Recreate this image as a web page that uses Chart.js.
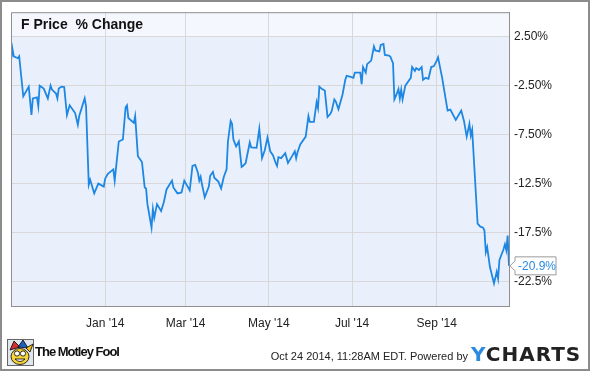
<!DOCTYPE html>
<html>
<head>
<meta charset="utf-8">
<script src="https://cdn.jsdelivr.net/npm/chart.js@4/dist/chart.umd.min.js"></script>
<style>
html, body { margin:0; padding:0; background:#fff; }
#wrap { position:relative; width:590px; height:371px; overflow:hidden; font-family:"Liberation Sans", Arial, sans-serif; }
#chartBox { position:absolute; left:0; top:0; width:590px; height:371px; }
#frame { position:absolute; left:0; top:0; width:590px; height:371px; box-sizing:border-box; border:2px solid #8c8c8c; pointer-events:none; }
.foot { position:absolute; white-space:nowrap; }
#fool { left:35px; top:344px; font-size:13px; font-weight:bold; letter-spacing:-1px; color:#111; line-height:16px; }
#stamp { right:122px; top:349px; font-size:11px; color:#222; line-height:14px; }
#ycharts { left:471px; top:343px; font-family:"DejaVu Sans", sans-serif; font-size:20px; font-weight:bold; letter-spacing:1px; color:#222; line-height:22px; }
#ycharts span { color:#2a8be0; }
#logo { left:7px; top:339px; }
</style>
</head>
<body>
<div id="wrap">
  <div id="chartBox"><canvas id="c"></canvas></div>
  <div class="foot" id="logo">
    <svg width="27" height="27" viewBox="0 0 27 27">
      <rect x="0.5" y="0.5" width="26" height="26" fill="#dfe6ee" stroke="#666"/>
      <path d="M3 11 L7 2 L13 8 Z" fill="#d32f2f" stroke="#000" stroke-width="0.8"/>
      <path d="M11 8 L16 1 L21 9 Z" fill="#1e5fc0" stroke="#000" stroke-width="0.8"/>
      <path d="M19 9 L26 5 L23 13 Z" fill="#f2c314" stroke="#000" stroke-width="0.8"/>
      <ellipse cx="13" cy="17.5" rx="9" ry="8" fill="#f5d33a" stroke="#000" stroke-width="0.8"/>
      <circle cx="10" cy="14.5" r="2.6" fill="#fff" stroke="#000" stroke-width="0.8"/>
      <circle cx="16" cy="14.5" r="2.6" fill="#fff" stroke="#000" stroke-width="0.8"/>
      <path d="M8 20 Q13 25 18 20 Z" fill="#fff" stroke="#000" stroke-width="0.8"/>
    </svg>
  </div>
  <div class="foot" id="fool">The Motley Fool</div>
  <div class="foot" id="stamp">Oct 24 2014, 11:28AM EDT. Powered by</div>
  <div class="foot" id="ycharts"><span>Y</span>CHARTS</div>
  <div id="frame"></div>
</div>
<script>
// F price % change
let startDate = "2013-10-24"
let endDate = "2014-10-24"
let dates = [
"2013-10-24","2013-10-25","2013-10-26","2013-10-29","2013-10-30","2013-11-02","2013-11-06","2013-11-08","2013-11-09","2013-11-12",
"2013-11-13","2013-11-14","2013-11-17","2013-11-20","2013-11-22","2013-11-23","2013-11-26","2013-11-27","2013-11-28","2013-11-30",
"2013-12-02","2013-12-04","2013-12-06","2013-12-10","2013-12-12","2013-12-13","2013-12-17","2013-12-18","2013-12-20","2013-12-21",
"2013-12-24","2013-12-27","2013-12-31","2014-01-01","2014-01-03","2014-01-07","2014-01-08","2014-01-11","2014-01-14","2014-01-16",
"2014-01-17","2014-01-18","2014-01-22","2014-01-23","2014-01-25","2014-01-28","2014-01-30","2014-01-31","2014-02-01","2014-02-04",
"2014-02-05","2014-02-06","2014-02-08","2014-02-11","2014-02-13","2014-02-15","2014-02-19","2014-02-20","2014-02-23","2014-02-26",
"2014-02-28","2014-03-04","2014-03-06","2014-03-08","2014-03-10","2014-03-11","2014-03-12","2014-03-13","2014-03-15","2014-03-18",
"2014-03-19","2014-03-21","2014-03-22","2014-03-25","2014-03-27","2014-03-29","2014-03-31","2014-04-01","2014-04-03","2014-04-04",
"2014-04-05","2014-04-07","2014-04-09","2014-04-11","2014-04-12","2014-04-14","2014-04-17","2014-04-18","2014-04-22","2014-04-24",
"2014-04-26","2014-04-28","2014-04-30","2014-05-02","2014-05-04","2014-05-06","2014-05-07","2014-05-08","2014-05-10","2014-05-13",
"2014-05-15","2014-05-18","2014-05-20","2014-05-21","2014-05-22","2014-05-24","2014-05-28","2014-05-30","2014-05-31","2014-06-03",
"2014-06-05","2014-06-06","2014-06-07","2014-06-09","2014-06-11","2014-06-13","2014-06-15","2014-06-16","2014-06-18","2014-06-19",
"2014-06-21","2014-06-24","2014-06-26","2014-06-27","2014-06-30","2014-07-02","2014-07-03","2014-07-07","2014-07-08","2014-07-09",
"2014-07-11","2014-07-12","2014-07-15","2014-07-17","2014-07-18","2014-07-21","2014-07-22","2014-07-24","2014-07-25","2014-07-28",
"2014-07-29","2014-07-31","2014-08-01","2014-08-02","2014-08-04","2014-08-05","2014-08-06","2014-08-07","2014-08-09","2014-08-11",
"2014-08-13","2014-08-14","2014-08-16","2014-08-17","2014-08-19","2014-08-21","2014-08-22","2014-08-24","2014-08-26","2014-08-28",
"2014-08-30","2014-09-01","2014-09-02","2014-09-05","2014-09-09","2014-09-11","2014-09-15","2014-09-19","2014-09-21","2014-09-23",
"2014-09-25","2014-09-26","2014-09-27","2014-10-01","2014-10-03","2014-10-05","2014-10-06","2014-10-07","2014-10-08","2014-10-10",
"2014-10-13","2014-10-15","2014-10-16","2014-10-17","2014-10-20","2014-10-21","2014-10-22","2014-10-23","2014-10-24"
]
let pctChange = [
0.0, 1.3, 0.5, 0.3, 0.5, -3.6, -2.6, -5.5, -3.8, -3.7,
-4.6, -2.5, -2.8, -3.8, -2.5, -2.9, -3.3, -3.8, -2.8, -2.6,
-2.65, -5.5, -4.5, -5.3, -6.5, -5.6, -3.8, -4.6, -12.6, -12.1,
-13.5, -12.5, -12.8, -12.0, -11.5, -11.05, -12.2, -8.2, -8.0, -4.7,
-4.5, -5.8, -6.3, -5.6, -9.7, -10.3, -12.9, -13.0, -14.6, -17.0,
-15.1, -16.0, -14.6, -15.3, -14.4, -13.1, -12.2, -12.9, -13.5, -13.4,
-12.2, -13.2, -10.7, -10.6, -11.4, -12.2, -11.8, -12.6, -13.9, -12.8,
-11.7, -11.3, -11.9, -12.3, -13.0, -11.8, -11.05, -8.2, -6.1, -6.4,
-8.0, -8.7, -8.2, -10.8, -10.7, -10.4, -8.3, -8.8, -8.85, -6.9,
-9.9, -9.1, -7.8, -9.2, -9.6, -10.4, -10.7, -9.8, -9.9, -9.4,
-10.4, -9.7, -9.2, -9.9, -9.3, -8.5, -7.7, -5.6, -6.2, -6.2,
-4.2, -4.8, -2.6, -2.85, -3.0, -5.7, -5.4, -5.1, -3.9, -4.1,
-4.9, -3.4, -1.9, -1.5, -1.6, -1.7, -1.16, -1.16, -2.35, -0.6,
-1.16, -0.3, 0.06, 1.5, 1.1, 1.0, 1.66, 1.76, 0.64, 0.57,
0.47, -0.2, -3.9, -3.6, -2.85, -3.8, -2.9, -3.9, -2.5, -2.1,
-1.7, -0.6, -1.0, -0.7, -0.9, -0.6, -1.9, -1.7, -1.8, -0.6,
-0.5, 0.06, 0.4, -1.7, -5.05, -4.95, -6.0, -5.05, -6.1, -7.7,
-6.4, -7.6, -7.0, -16.6, -16.9, -17.0, -17.3, -19.5, -19.0, -21.0,
-22.7, -21.5, -22.2, -20.3, -19.2, -18.7, -19.3, -17.8, -20.9
]
let xTickDates = ["2014-01-01", "2014-03-01", "2014-05-01", "2014-07-01", "2014-09-01"]
let xTickLabels = ["Jan '14", "Mar '14", "May '14", "Jul '14", "Sep '14"]
let yTickValues = [2.5, -2.5, -7.5, -12.5, -17.5, -22.5]
let yTickLabels = ["2.50%", "-2.50%", "-7.50%", "-12.5%", "-17.5%", "-22.5%"]
let yMin = -25
let yMax = 5
let title = "F Price  % Change"
let lastLabel = "-20.9%"

let dayOf = function (d) {
    return (Date.parse(d) - Date.parse(startDate)) / 86400000
}
let points = dates.map((d, i) => ({x: dayOf(d), y: pctChange[i]}))
let lineColor = "#1d87e3"

// backgrounds, header band, box, title and end label
let decor = {
    id: "decor",
    beforeDraw(chart) {
        let ctx = chart.ctx
        let a = chart.chartArea
        let yS = chart.scales.y
        let bandY = yS.getPixelForValue(yTickValues[0])
        ctx.save()
        ctx.fillStyle = "#eaf0fb"
        ctx.fillRect(a.left, a.top, a.right - a.left, a.bottom - a.top)
        ctx.fillStyle = "#f4f7fd"
        ctx.fillRect(a.left, a.top, a.right - a.left, bandY - a.top)
        ctx.restore()
    },
    afterDraw(chart) {
        let ctx = chart.ctx
        let a = chart.chartArea
        ctx.save()
        ctx.strokeStyle = "#8f8f8f"
        ctx.lineWidth = 1
        ctx.beginPath()
        ctx.moveTo(a.left + 0.5, a.bottom)
        ctx.lineTo(a.left + 0.5, a.top + 0.5)
        ctx.lineTo(a.right, a.top + 0.5)
        ctx.stroke()

        ctx.fillStyle = "#111"
        ctx.font = "bold 14px 'Liberation Sans', Arial, sans-serif"
        ctx.textBaseline = "alphabetic"
        ctx.textAlign = "left"
        ctx.fillText(title, 21, 29)

        // end value label
        let yPix = chart.scales.y.getPixelForValue(pctChange[pctChange.length - 1])
        let bx = a.right + 6, bw = 41, bh = 18
        ctx.beginPath()
        ctx.moveTo(a.right + 1, yPix)
        ctx.lineTo(bx, yPix - 5)
        ctx.lineTo(bx, yPix - bh / 2)
        ctx.lineTo(bx + bw, yPix - bh / 2)
        ctx.lineTo(bx + bw, yPix + bh / 2)
        ctx.lineTo(bx, yPix + bh / 2)
        ctx.lineTo(bx, yPix + 5)
        ctx.closePath()
        ctx.fillStyle = "#fff"
        ctx.fill()
        ctx.strokeStyle = "#9a9a9a"
        ctx.stroke()
        ctx.fillStyle = "#2a8be0"
        ctx.font = "12px 'Liberation Sans', Arial, sans-serif"
        ctx.textBaseline = "middle"
        ctx.fillText(lastLabel, bx + 3, yPix + 1)
        ctx.restore()
    }
}

let chart = new Chart(document.getElementById("c"), {
    type: "line",
    data: {
        datasets: [{
            data: points,
            borderColor: lineColor,
            borderWidth: 1.8,
            pointRadius: 0,
            tension: 0,
            fill: false
        }]
    },
    options: {
        responsive: true,
        maintainAspectRatio: false,
        animation: false,
        devicePixelRatio: 1,
        layout: {padding: {left: 11, top: 11, right: 0, bottom: 0}},
        plugins: {legend: {display: false}, tooltip: {enabled: false}},
        scales: {
            x: {
                type: "linear",
                min: 0,
                max: dayOf(endDate),
                afterBuildTicks: s => { s.ticks = xTickDates.map(d => ({value: dayOf(d)})) },
                afterFit: s => { s.height = 65 },
                grid: {color: "#d8d8d8", drawTicks: false},
                border: {display: true, color: "#8f8f8f"},
                ticks: {
                    padding: 10,
                    autoSkip: false,
                    maxRotation: 0,
                    color: "#222",
                    font: {family: "'Liberation Sans', Arial, sans-serif", size: 12},
                    callback: (v, i) => xTickLabels[i]
                }
            },
            y: {
                position: "right",
                min: yMin,
                max: yMax,
                afterBuildTicks: s => { s.ticks = yTickValues.map(v => ({value: v})) },
                afterFit: s => { s.width = 81 },
                grid: {color: "#d8d8d8", drawTicks: false},
                border: {display: true, color: "#8f8f8f"},
                ticks: {
                    padding: 5,
                    color: "#222",
                    font: {family: "'Liberation Sans', Arial, sans-serif", size: 12},
                    callback: (v, i) => yTickLabels[i]
                }
            }
        }
    },
    plugins: [decor]
})
</script>
</body>
</html>
